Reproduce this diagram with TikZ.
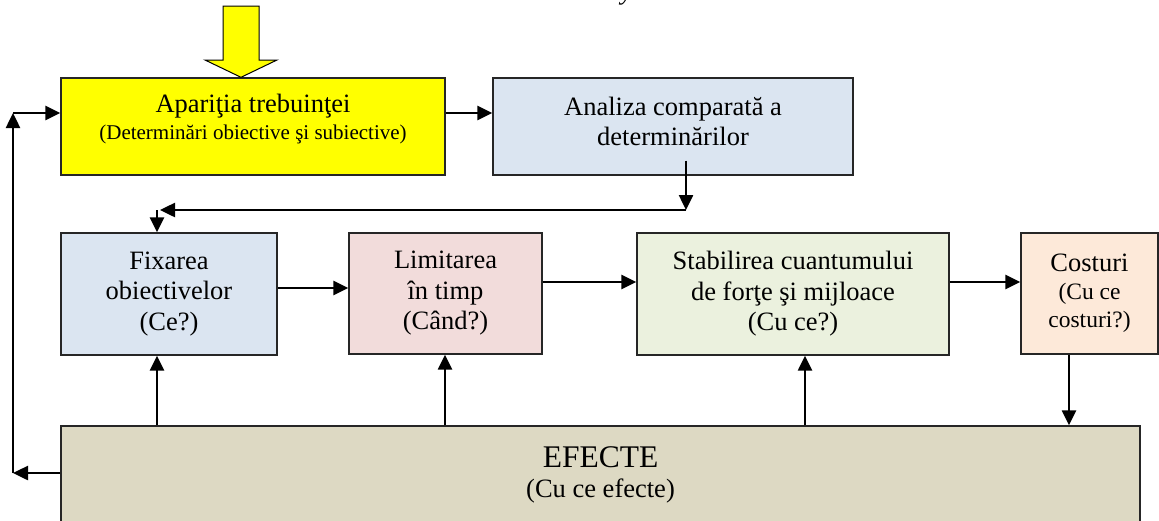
\documentclass[tikz,border=0pt]{standalone}
\usepackage{fontspec}
\setmainfont{Liberation Serif}
\usepackage{tikz}
\usetikzlibrary{arrows.meta}
\definecolor{needyellow}{RGB}{255,255,0}
\definecolor{paleblue}{RGB}{219,229,241}
\definecolor{palered}{RGB}{242,220,219}
\definecolor{palegreen}{RGB}{235,241,222}
\definecolor{paleorange}{RGB}{253,233,217}
\definecolor{effecttan}{RGB}{221,217,195}

\begin{document}
\begin{tikzpicture}[x=1pt,y=-1pt,
  box/.style={draw=black!85,line width=1.4pt,align=center,inner sep=0pt,
    font=\fontsize{26.5}{30.5}\selectfont},
  arr/.style={line width=2.5pt,-{Triangle[length=15pt,width=14pt]}}]
\useasboundingbox (0,0) rectangle (1159,520);
% cut line of text above
\node[font=\itshape\fontsize{26.5}{30}\selectfont,anchor=base,inner sep=0pt] (ytail) at (627,-1) {y};
% top row
\node[box,fill=needyellow,minimum width=384pt,minimum height=97pt,
  font=\fontsize{26.5}{27}\selectfont] (need) at (253,126.5)
  {Apariţia trebuinţei\\{\fontsize{21}{27}\selectfont(Determinări obiective şi subiective)\rule[-19pt]{0pt}{1pt}}};
\node[box,fill=paleblue,minimum width=360pt,minimum height=97pt,
  font=\fontsize{26.5}{30}\selectfont] (an) at (673,126.5)
  {Analiza comparată a\\determinărilor\rule[-11pt]{0pt}{1pt}};
% middle row
\node[box,fill=paleblue,minimum width=216pt,minimum height=122pt] (fix) at (169,294)
  {Fixarea\\obiectivelor\\(Ce?)};
\node[box,fill=palered,minimum width=193pt,minimum height=121pt] (lim) at (445.5,293.5)
  {Limitarea\\în timp\\(Când?)};
\node[box,fill=palegreen,minimum width=312pt,minimum height=122pt] (stab) at (793,294)
  {Stabilirea cuantumului\\de forţe şi mijloace\\(Cu ce?)};
\node[box,fill=paleorange,minimum width=137pt,minimum height=121pt,
  font=\fontsize{26.5}{28}\selectfont] (cost) at (1089.5,293.5)
  {Costuri\\{\fontsize{23.5}{28}\selectfont(Cu ce}\\{\fontsize{23.5}{28}\selectfont costuri?)}};
% bottom
\node[box,fill=effecttan,minimum width=1079pt,minimum height=97pt,
  font=\fontsize{31.5}{30}\selectfont] (eff) at (600.5,474.5)
  {EFECTE\\{\fontsize{26.5}{30}\selectfont(Cu ce efecte)}};

% big input arrow
\draw[fill=needyellow,line width=1pt] (223,6) -- (259,6) -- (259,60) -- (277,60)
  -- (need.north -| 241,0) -- (205,60) -- (223,60) -- cycle;

% connectors
\coordinate (turn) at (686,210);
\coordinate (drop) at (157,210);
\coordinate (loop) at (13,113);
\draw[arr] ([yshift=13.5pt]need.east) -- ([yshift=13.5pt]need.east -| an.west);
\draw[arr] ([yshift=15pt]an.south -| turn) -- (turn);
\draw[arr] (turn) -- ([xshift=3pt]drop);
\draw[arr] (drop) -- (drop |- fix.north);
\draw[arr] ([yshift=6pt]fix.east) -- ([yshift=6pt]fix.east -| lim.west);
\draw[arr] ([yshift=11.5pt]lim.east) -- ([yshift=11.5pt]lim.east -| stab.west);
\draw[arr] ([yshift=12pt]stab.east) -- ([yshift=12pt]stab.east -| cost.west);
\draw[arr] ([xshift=-20.5pt]cost.south) -- ([xshift=-20.5pt]cost.south |- eff.north);
\foreach \n/\x in {fix/157,lim/445,stab/805} {
  \draw[arr] (eff.north -| \x,0) -- (\n.south -| \x,0);
}
% feedback to the start
\draw[arr] ([yshift=1.5pt]eff.west) -- ([yshift=1.5pt]eff.west -| loop);
\draw[arr] ([yshift=1.5pt]eff.west -| loop) -- (loop);
\draw[arr] (loop) -- (loop -| need.west);
\end{tikzpicture}
\end{document}
